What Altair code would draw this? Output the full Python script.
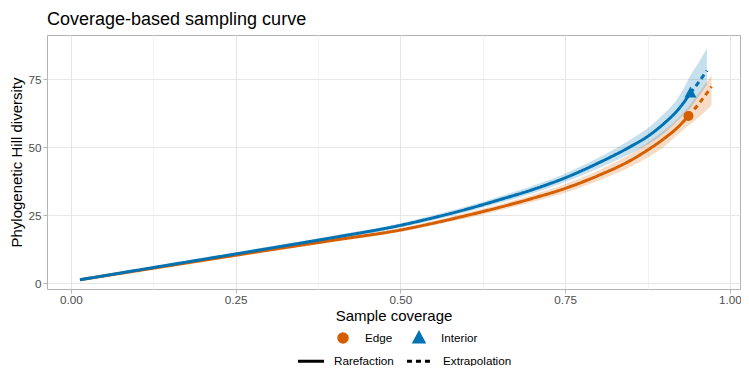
import altair as alt
import pandas as pd

# ---- data ----
sites = ["Edge", "Interior"]
methods = ["Rarefaction", "Extrapolation"]

edge_rare_x = [0.0136, 0.1, 0.2, 0.3, 0.4, 0.5, 0.55, 0.6, 0.65, 0.7, 0.75, 0.8, 0.85, 0.875, 0.9, 0.92, 0.937]
edge_rare_y = [1.3, 4.6, 8.4, 12.2, 15.9, 19.6, 22.1, 24.9, 27.9, 31.2, 34.9, 39.6, 45.3, 49.0, 53.2, 57.2, 61.5]
edge_rare_lo = [1.0, 4.3, 8.0, 11.7, 15.3, 18.9, 21.3, 23.9, 26.8, 29.9, 33.3, 37.7, 42.9, 46.3, 50.2, 54.5, 58.0]
edge_rare_hi = [1.6, 4.9, 8.8, 12.7, 16.5, 20.3, 22.9, 25.9, 29.0, 32.5, 36.5, 41.5, 47.7, 51.7, 56.2, 60.3, 65.0]
edge_ext_x = [0.937, 0.955, 0.972]
edge_ext_y = [61.5, 66.7, 72.3]
edge_ext_lo = [58.0, 61.5, 65.5]
edge_ext_hi = [65.0, 70.8, 76.6]

int_rare_x = [0.0136, 0.1, 0.2, 0.3, 0.4, 0.5, 0.55, 0.6, 0.65, 0.7, 0.75, 0.8, 0.85, 0.875, 0.9, 0.92, 0.94]
int_rare_y = [1.3, 4.8, 8.8, 12.8, 16.9, 21.3, 24.1, 27.2, 30.7, 34.4, 38.8, 44.2, 50.4, 54.0, 58.8, 63.5, 69.9]
int_rare_lo = [1.0, 4.4, 8.3, 12.2, 16.2, 20.5, 23.2, 26.2, 29.5, 33.0, 37.2, 42.2, 47.8, 51.0, 55.2, 59.7, 64.5]
int_rare_hi = [1.6, 5.2, 9.3, 13.4, 17.6, 22.1, 25.0, 28.2, 31.9, 35.8, 40.4, 46.2, 53.0, 57.0, 62.4, 67.8, 76.5]
int_ext_x = [0.94, 0.952, 0.965]
int_ext_y = [69.9, 73.8, 78.2]
int_ext_lo = [64.5, 68.5, 73.0]
int_ext_hi = [76.5, 81.0, 86.4]

obs_x = [0.937, 0.94]
obs_y = [61.5, 69.9]

colors = ["#D55E00", "#0072B2"]
x_ticks = [0, 0.125, 0.25, 0.375, 0.5, 0.625, 0.75, 0.875, 1.0]
y_ticks = [0, 12.5, 25, 37.5, 50, 62.5, 75, 87.5]

rows = []
def add(site, method, xs, ys, los, his):
    for a, b, c, d in zip(xs, ys, los, his):
        rows.append({"Site": site, "Method": method, "seg": site + method,
                     "x": a, "y": b, "lo": c, "hi": d})

add("Edge", "Rarefaction", edge_rare_x, edge_rare_y, edge_rare_lo, edge_rare_hi)
add("Edge", "Extrapolation", edge_ext_x, edge_ext_y, edge_ext_lo, edge_ext_hi)
add("Interior", "Rarefaction", int_rare_x, int_rare_y, int_rare_lo, int_rare_hi)
add("Interior", "Extrapolation", int_ext_x, int_ext_y, int_ext_lo, int_ext_hi)
df = pd.DataFrame(rows)
obs = pd.DataFrame({"Site": sites, "x": obs_x, "y": obs_y})

FONT = "Liberation Sans"
xscale = alt.Scale(domain=[-0.0364, 1.0152], nice=False, zero=False)
yscale = alt.Scale(domain=[-2.1, 91.3], nice=False, zero=False)
cscale = alt.Scale(domain=sites, range=colors)
shscale = alt.Scale(domain=sites, range=["circle", "M0,-1.35L1.2,0.85L-1.2,0.85Z"])

x_axis = alt.Axis(
    title="Sample coverage", values=x_ticks,
    labelExpr="(datum.value*4) % 1 == 0 ? format(datum.value, '.2f') : ''",
    tickOpacity={"condition": {"test": "(datum.value*4) % 1 != 0", "value": 0}, "value": 1},
    gridColor={"condition": {"test": "(datum.value*4) % 1 != 0", "value": "#F2F2F2"}, "value": "#E6E6E6"},
    labelPadding=1, titlePadding=3,
)
y_axis = alt.Axis(
    title="Phylogenetic Hill diversity", values=y_ticks,
    labelExpr="datum.value % 25 == 0 ? format(datum.value, 'd') : ''",
    tickOpacity={"condition": {"test": "datum.value % 25 != 0", "value": 0}, "value": 1},
    gridColor={"condition": {"test": "datum.value % 25 != 0", "value": "#F2F2F2"}, "value": "#E6E6E6"},
    labelPadding=2, titlePadding=3,
)

site_legend = alt.Legend(title=None, orient="none", direction="horizontal",
                         legendX=290, legendY=297, symbolSize=100, symbolOpacity=1,
                         labelOffset=16, columnPadding=17)
method_legend = alt.Legend(title=None, orient="none", direction="horizontal",
                           legendX=249, legendY=311, symbolType="stroke",
                           symbolStrokeColor="black", symbolStrokeWidth=3,
                           symbolSize=680, labelOffset=8, columnPadding=6)

base = alt.Chart(df)

band = base.mark_area(opacity=0.22, interpolate="monotone").encode(
    x=alt.X("x:Q", scale=xscale, axis=x_axis),
    y=alt.Y("lo:Q", scale=yscale, axis=y_axis),
    y2="hi:Q",
    color=alt.Color("Site:N", scale=cscale, legend=site_legend),
    detail="seg:N",
)

lines = base.mark_line(strokeWidth=3, interpolate="monotone").encode(
    x="x:Q", y="y:Q",
    color=alt.Color("Site:N", scale=cscale, legend=site_legend),
    strokeDash=alt.StrokeDash("Method:N", sort=methods,
                              scale=alt.Scale(domain=methods, range=[[1, 0], [5, 4]]),
                              legend=method_legend),
    detail="seg:N",
)

points = alt.Chart(obs).mark_point(filled=True, size=100, opacity=1).encode(
    x="x:Q", y="y:Q",
    color=alt.Color("Site:N", scale=cscale, legend=site_legend),
    shape=alt.Shape("Site:N", scale=shscale, legend=site_legend),
)

chart = alt.layer(band, lines, points).properties(
    width=693, height=254,
    title=alt.TitleParams("Coverage-based sampling curve", anchor="start", frame="group",
                          fontSize=18, fontWeight="normal", font=FONT, color="black", offset=6),
    autosize=alt.AutoSizeParams(type="none"),
    padding={"left": 39, "top": 27, "right": 1, "bottom": 77},
).configure_view(
    stroke="#B3B3B3", strokeWidth=1,
).configure_axis(
    domain=False, tickColor="#B3B3B3", tickSize=4, tickWidth=1,
    labelFont=FONT, labelFontSize=11.7, labelColor="#4D4D4D",
    titleFont=FONT, titleFontSize=15, titleFontWeight="normal", titleColor="black",
    gridWidth=1,
).configure_legend(
    labelFont=FONT, labelFontSize=11.7, labelColor="black",
)

chart.save("out.html", embed_options={"renderer": "svg", "actions": False})
